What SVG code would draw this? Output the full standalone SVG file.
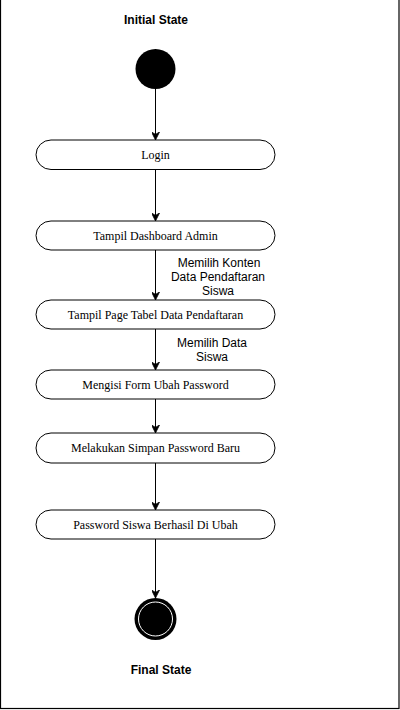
<svg xmlns="http://www.w3.org/2000/svg" width="400" height="710" viewBox="0 0 400 710">
<style>
.act rect{fill:#fff;stroke:#000;stroke-width:1}
.act text{font-family:"Liberation Serif",serif;font-size:12px;text-anchor:middle;fill:#000}
.lbl{font-family:"Liberation Sans",Arial,sans-serif;font-size:12px;text-anchor:middle;fill:#000}
.ttl{font-family:"Liberation Sans",Arial,sans-serif;font-size:12px;font-weight:bold;text-anchor:middle;fill:#000}
.edge{stroke:#000;stroke-width:1;fill:none;marker-end:url(#arr)}
</style>
<defs>
<marker id="arr" viewBox="0 0 10 10" refX="10" refY="5" markerWidth="8" markerHeight="8" markerUnits="userSpaceOnUse" orient="auto">
<path d="M0,0 L10,5 L0,10 L3,5 Z" fill="#000" stroke="#000" stroke-width="1"/>
</marker>
</defs>
<rect x="0.5" y="-1" width="398.5" height="709.5" fill="#fff" stroke="#000" stroke-width="1.2"/>
<g id="title-initial"><text class="ttl" x="156" y="24">Initial State</text></g>
<g id="initial"><circle cx="155.5" cy="69" r="20" fill="#000"/></g>
<g id="login" class="act"><rect x="36" y="140" width="239" height="29.5" rx="15"/><text x="155.5" y="159">Login</text></g>
<g id="dashboard" class="act"><rect x="36" y="221" width="239" height="29" rx="15"/><text x="155.5" y="240">Tampil Dashboard Admin</text></g>
<g id="pagetabel" class="act"><rect x="36" y="300" width="239" height="29" rx="15"/><text x="155.5" y="319">Tampil Page Tabel Data Pendaftaran</text></g>
<g id="mengisi" class="act"><rect x="36" y="370" width="239" height="29" rx="15"/><text x="155.5" y="389">Mengisi Form Ubah Password</text></g>
<g id="simpan" class="act"><rect x="36" y="433" width="239" height="30" rx="15"/><text x="155.5" y="452">Melakukan Simpan Password Baru</text></g>
<g id="berhasil" class="act"><rect x="36" y="510" width="239" height="29" rx="15"/><text x="155.5" y="529">Password Siswa Berhasil Di Ubah</text></g>
<g id="final">
<circle cx="155.5" cy="619" r="21" fill="#000"/>
<circle cx="155.5" cy="619" r="17" fill="#000" stroke="#fff" stroke-width="1"/>
</g>
<g id="title-final"><text class="ttl" x="161" y="674">Final State</text></g>
<g id="connectors">
<line class="edge" x1="155.5" y1="89" x2="155.5" y2="140"/>
<line class="edge" x1="155.5" y1="170" x2="155.5" y2="221"/>
<line class="edge" x1="155.5" y1="250" x2="155.5" y2="300"/>
<line class="edge" x1="155.5" y1="329" x2="155.5" y2="370"/>
<line class="edge" x1="155.5" y1="399" x2="155.5" y2="433"/>
<line class="edge" x1="155.5" y1="463" x2="155.5" y2="510"/>
<line class="edge" x1="155.5" y1="539" x2="155.5" y2="598"/>
<text class="lbl" x="219" y="267">Memilih Konten</text>
<text class="lbl" x="218" y="281">Data Pendaftaran</text>
<text class="lbl" x="218" y="295">Siswa</text>
<text class="lbl" x="212" y="347">Memilih Data</text>
<text class="lbl" x="212" y="361">Siswa</text>
</g>
</svg>
